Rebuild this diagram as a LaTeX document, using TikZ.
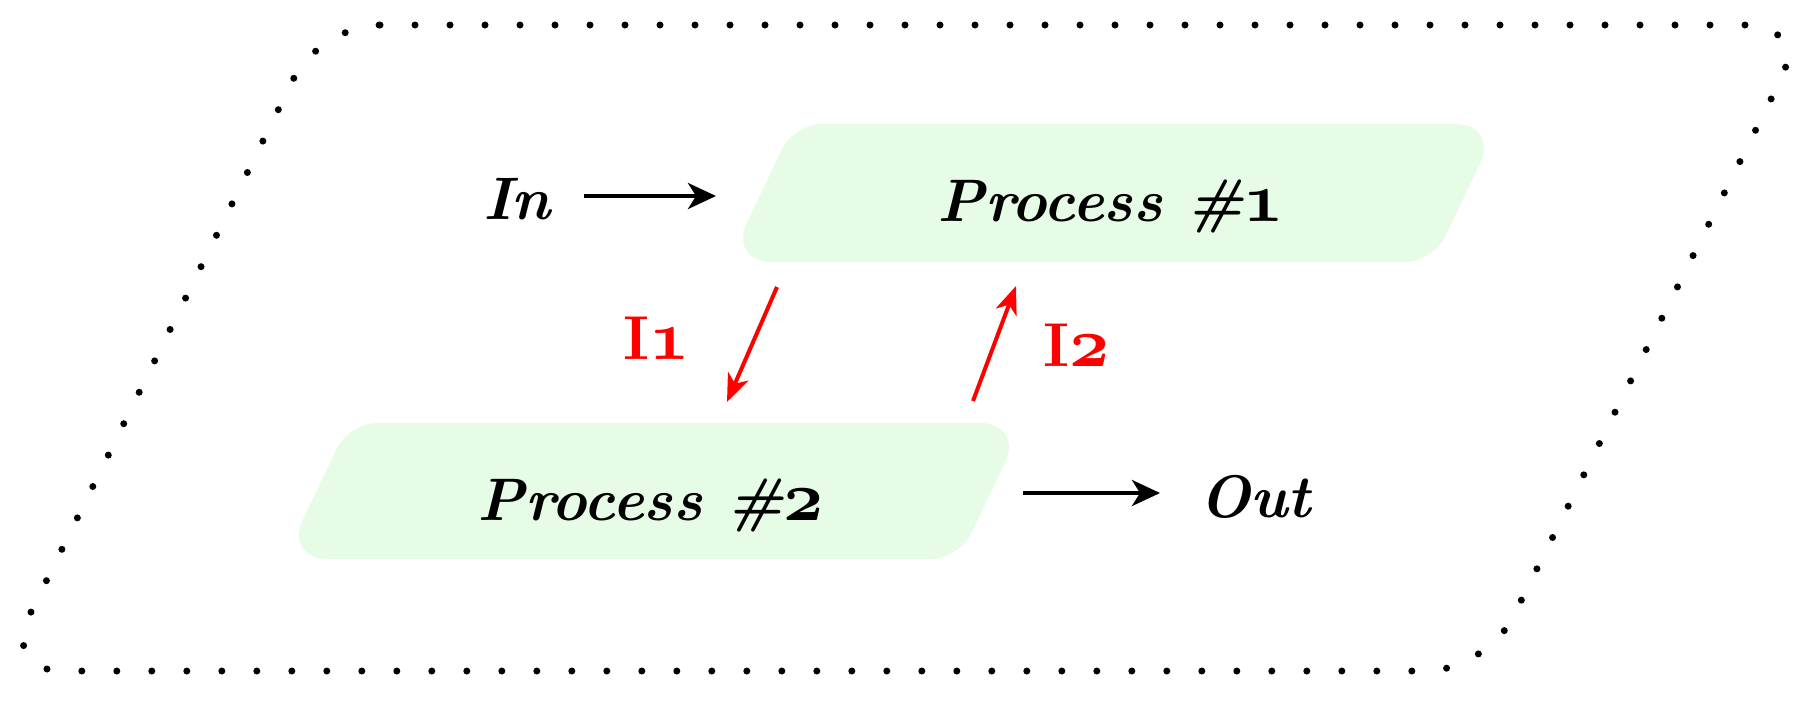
\documentclass[tikz,border=0pt]{standalone}
\usepackage{graphicx}
\usetikzlibrary{arrows.meta}
\definecolor{boxgreen}{RGB}{230,252,230}
\newcommand\osn[1]{\scalebox{3.5}{\fontsize{10}{12}\selectfont\boldmath$\mathnormal{#1}$}}
\begin{document}
\begin{tikzpicture}[x=0.5pt,y=-0.5pt,
  lbl/.style={font=\fontsize{30}{36}\selectfont\bfseries\itshape, inner sep=0pt},
  redlbl/.style={font=\fontsize{31}{36}\selectfont\bfseries, text=red, inner sep=0pt},
  blkarrow/.style={line width=2pt, -{Stealth[length=14pt,width=13pt,inset=4pt]}},
  redarrow/.style={line width=2pt, red, -{Stealth[length=14pt,width=11pt,inset=4pt]}},
  procbox/.style={fill=boxgreen},
  frame/.style={line width=3.5pt, line cap=round, dash pattern=on 0pt off 17.5pt, rounded corners=30pt}]
\useasboundingbox (0,0) rectangle (1806,708);
% outer dotted frame
\draw[frame] (320,25) -- (1808,25) -- (1486,671) -- (2,671) -- cycle;
% process boxes
\path[procbox] (1080,262) [rounded corners=22pt] -- (728,262) [rounded corners=14pt] -- (794,124) [rounded corners=22pt] -- (1499,124) [rounded corners=14pt] -- (1433,262) [sharp corners] -- cycle;
\path[procbox] (620,559) [rounded corners=22pt] -- (284,559) [rounded corners=14pt] -- (349,423) [rounded corners=22pt] -- (1024,423) [rounded corners=14pt] -- (959,559) [sharp corners] -- cycle;
% texts
\node[lbl, anchor=base] (In) at (517,219) {In};
\node[lbl, anchor=base] (P1) at (1111,221) {Process \#\osn{1}};
\node[lbl, anchor=base] (P2) at (651,520) {Process \#\osn{2}};
\node[lbl, anchor=base] (Out) at (1255,517) {Out};
\node[redlbl, anchor=base] (L1) at (657,359) {I\osn{1}};
\node[redlbl, anchor=base] (L2) at (1077,366) {I\osn{2}};
% connectors
\coordinate (a1) at (584,196); \coordinate (a2) at (716,196);
\coordinate (b1) at (1023,493); \coordinate (b2) at (1160,493);
\coordinate (c1) at (777,287); \coordinate (c2) at (727,402);
\coordinate (d1) at (973,401); \coordinate (d2) at (1016,286);
\draw[blkarrow] (a1) -- (a2);
\draw[blkarrow] (b1) -- (b2);
\draw[redarrow] (c1) -- (c2);
\draw[redarrow] (d1) -- (d2);
\end{tikzpicture}
\end{document}
